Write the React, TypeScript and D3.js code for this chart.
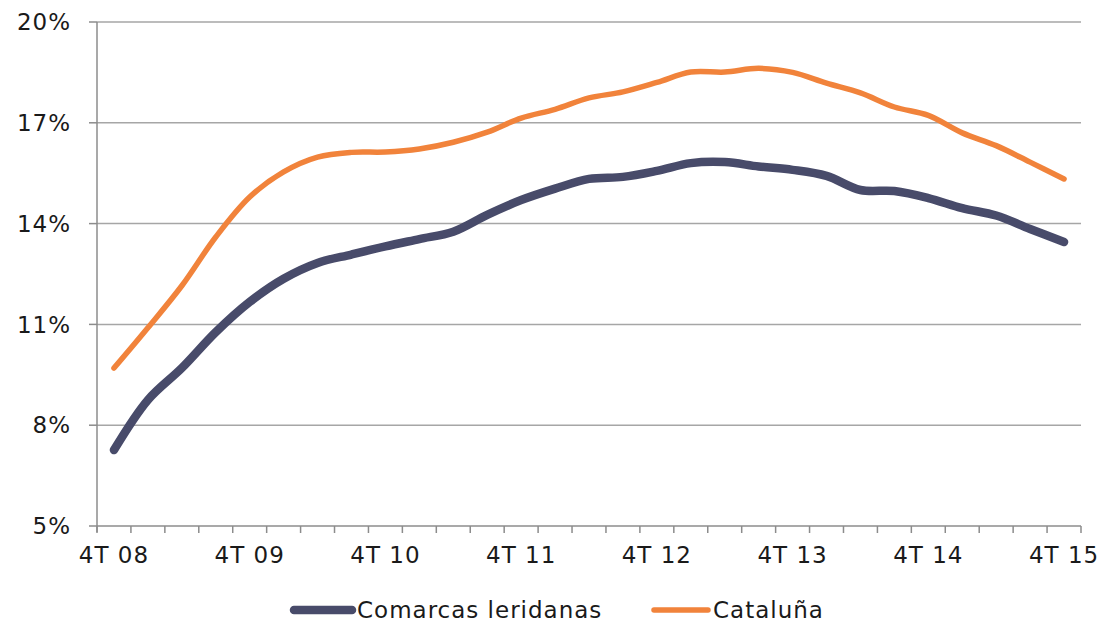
import * as d3 from "d3";
import { useEffect, useRef } from "react";

const quarters: string[] = [];
for (let y = 8; y <= 15; y++) {
	const yy = String(y).padStart(2, "0");
	if (y === 8) {
		quarters.push(`4T ${yy}`);
		continue;
	}
	for (let q = 1; q <= 4; q++) quarters.push(`${q}T ${yy}`);
}

const leridanas = [
	7.26, 8.75, 9.7, 10.77, 11.67, 12.36, 12.83, 13.08, 13.32, 13.54, 13.76,
	14.26, 14.7, 15.04, 15.33, 15.39, 15.57, 15.8, 15.83, 15.7, 15.6, 15.42,
	15.0, 14.97, 14.76, 14.46, 14.24, 13.84, 13.45,
];

const cataluna = [
	9.7, 10.9, 12.15, 13.6, 14.79, 15.54, 15.98, 16.12, 16.13, 16.22, 16.42,
	16.72, 17.14, 17.4, 17.74, 17.92, 18.2, 18.51, 18.51, 18.62, 18.5, 18.18,
	17.89, 17.47, 17.22, 16.7, 16.32, 15.83, 15.33,
];

const yTicks = [5, 8, 11, 14, 17, 20];

const series = [
	{ name: "Comarcas leridanas", values: leridanas, color: "#484b6a", width: 8.5 },
	{ name: "Cataluña", values: cataluna, color: "#f1833b", width: 5.5 },
];

const W = 1104;
const H = 624;
const FONT = "'DejaVu Sans', sans-serif";

export default function App() {
	const ref = useRef<SVGSVGElement | null>(null);

	useEffect(() => {
		if (!ref.current) return;
		const svg = d3.select(ref.current);
		svg.selectAll("*").remove();

		const left = 97;
		const right = 1081;
		const top = 22;
		const bottom = 526;

		const x = d3.scaleBand<string>().domain(quarters).range([left, right]);
		const y = d3.scaleLinear().domain([5, 20]).range([bottom, top]);

		// grid
		svg
			.append("g")
			.selectAll("line")
			.data(yTicks.slice(1))
			.join("line")
			.attr("x1", left)
			.attr("x2", right)
			.attr("y1", (d) => y(d))
			.attr("y2", (d) => y(d))
			.attr("stroke", "#a6a6a6")
			.attr("stroke-width", 1.5);

		// y axis
		svg
			.append("line")
			.attr("x1", left)
			.attr("x2", left)
			.attr("y1", top)
			.attr("y2", bottom + 6)
			.attr("stroke", "#8c8c8c")
			.attr("stroke-width", 1.5);

		svg
			.append("g")
			.selectAll("line")
			.data(yTicks)
			.join("line")
			.attr("x1", left - 8)
			.attr("x2", left)
			.attr("y1", (d) => y(d))
			.attr("y2", (d) => y(d))
			.attr("stroke", "#8c8c8c")
			.attr("stroke-width", 1.5);

		svg
			.append("g")
			.selectAll("text")
			.data(yTicks)
			.join("text")
			.attr("x", 71)
			.attr("y", (d) => y(d))
			.attr("dy", "0.36em")
			.attr("text-anchor", "end")
			.attr("font-family", FONT)
			.attr("font-size", 23)
			.attr("letter-spacing", 1)
			.attr("fill", "#1a1a1a")
			.text((d) => `${d}%`);

		// x axis
		svg
			.append("line")
			.attr("x1", left)
			.attr("x2", right)
			.attr("y1", bottom)
			.attr("y2", bottom)
			.attr("stroke", "#8c8c8c")
			.attr("stroke-width", 1.5);

		const bounds = quarters.map((q) => x(q) as number).concat([right]);
		svg
			.append("g")
			.selectAll("line")
			.data(bounds)
			.join("line")
			.attr("x1", (d) => d)
			.attr("x2", (d) => d)
			.attr("y1", bottom)
			.attr("y2", bottom + 7)
			.attr("stroke", "#8c8c8c")
			.attr("stroke-width", 1.5);

		svg
			.append("g")
			.selectAll("text")
			.data(quarters.filter((q) => q.startsWith("4T")))
			.join("text")
			.attr("x", (d) => (x(d) as number) + x.bandwidth() / 2)
			.attr("y", 563)
			.attr("text-anchor", "middle")
			.attr("font-family", FONT)
			.attr("font-size", 23)
			.attr("letter-spacing", 1)
			.attr("fill", "#1a1a1a")
			.text((d) => d);

		// lines
		const line = d3
			.line<number>()
			.x((_, i) => (x(quarters[i]) as number) + x.bandwidth() / 2)
			.y((d) => y(d))
			.curve(d3.curveCatmullRom.alpha(0.5));

		svg
			.append("g")
			.attr("fill", "none")
			.attr("stroke-linecap", "round")
			.attr("stroke-linejoin", "round")
			.selectAll("path")
			.data(series)
			.join("path")
			.attr("stroke", (d) => d.color)
			.attr("stroke-width", (d) => d.width)
			.attr("d", (d) => line(d.values));

		// legend
		const legendPos = [294, 654];
		const lg = svg
			.append("g")
			.selectAll("g")
			.data(series)
			.join("g")
			.attr("transform", (_, i) => `translate(${legendPos[i]},610)`);

		lg.append("line")
			.attr("x1", 0)
			.attr("x2", (_, i) => (i === 0 ? 58 : 54))
			.attr("stroke", (d) => d.color)
			.attr("stroke-width", (d) => d.width)
			.attr("stroke-linecap", "round");

		lg.append("text")
			.attr("x", (_, i) => (i === 0 ? 63 : 59))
			.attr("dy", "0.36em")
			.attr("font-family", FONT)
			.attr("font-size", 23)
			.attr("letter-spacing", 1)
			.attr("fill", "#1a1a1a")
			.text((d) => d.name);
	}, []);

	return (
		<svg
			ref={ref}
			width={W}
			height={H}
			style={{ position: "absolute", left: 0, top: 0, background: "#fff" }}
		></svg>
	);
}
